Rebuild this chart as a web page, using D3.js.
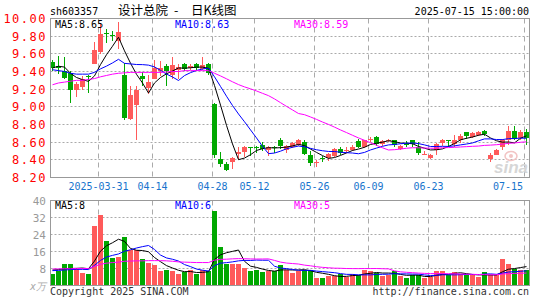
<!DOCTYPE html>
<html>
<head>
<meta charset="utf-8">
<script src="https://d3js.org/d3.v7.min.js"></script>
<style>
body { margin: 0; background: #fff; }
svg text { font-family: "DejaVu Sans Mono", monospace; font-size: 10px; }
</style>
</head>
<body>
<div id="chart"></div>
<script>
// daily candles, sh603357
var dates = ['2025-03-19','2025-03-20','2025-03-21','2025-03-24','2025-03-25','2025-03-26','2025-03-27','2025-03-28',
    '2025-03-31','2025-04-01','2025-04-02','2025-04-03','2025-04-07','2025-04-08','2025-04-09','2025-04-10','2025-04-11',
    '2025-04-14','2025-04-15','2025-04-16','2025-04-17','2025-04-18','2025-04-21','2025-04-22','2025-04-23','2025-04-24','2025-04-25',
    '2025-04-28','2025-04-29','2025-04-30','2025-05-06','2025-05-07','2025-05-08','2025-05-09',
    '2025-05-12','2025-05-13','2025-05-14','2025-05-15','2025-05-16','2025-05-19','2025-05-20','2025-05-21','2025-05-22','2025-05-23',
    '2025-05-26','2025-05-27','2025-05-28','2025-05-29','2025-05-30','2025-06-03','2025-06-04','2025-06-05','2025-06-06',
    '2025-06-09','2025-06-10','2025-06-11','2025-06-12','2025-06-13','2025-06-16','2025-06-17','2025-06-18','2025-06-19','2025-06-20',
    '2025-06-23','2025-06-24','2025-06-25','2025-06-26','2025-06-27','2025-06-30','2025-07-01','2025-07-02','2025-07-03','2025-07-04',
    '2025-07-07','2025-07-08','2025-07-09','2025-07-10','2025-07-11','2025-07-14','2025-07-15'];

var openP = [9.51,9.46,9.41,9.38,9.19,9.23,9.35,9.49,9.62,9.84,9.81,9.74,9.36,8.86,9.02,9.35,9.21,9.32,9.40,9.46,
    9.36,9.42,9.48,9.44,9.48,9.43,9.48,9.03,8.41,8.35,8.37,8.47,8.49,8.55,8.55,8.57,8.51,8.54,8.63,8.51,
    8.55,8.57,8.60,8.46,8.36,8.42,8.42,8.44,8.52,8.50,8.51,8.61,8.54,8.63,8.66,8.58,8.62,8.62,8.52,8.58,
    8.62,8.55,8.46,8.42,8.51,8.59,8.63,8.58,8.63,8.72,8.66,8.68,8.73,8.41,8.46,8.55,8.63,8.73,8.65,8.72];
var highP = [9.53,9.58,9.56,9.40,9.28,9.35,9.36,9.73,9.95,9.88,9.86,9.96,9.50,9.24,9.24,9.39,9.36,9.53,9.52,9.49,
    9.56,9.48,9.50,9.48,9.50,9.56,9.50,9.04,8.49,8.38,8.43,8.55,8.56,8.55,8.56,8.60,8.56,8.56,8.65,8.57,
    8.60,8.64,8.62,8.50,8.40,8.44,8.48,8.53,8.55,8.54,8.57,8.64,8.63,8.66,8.67,8.63,8.64,8.63,8.57,8.61,
    8.63,8.60,8.50,8.47,8.59,8.64,8.63,8.68,8.69,8.72,8.71,8.73,8.74,8.48,8.52,8.64,8.78,8.78,8.74,8.75];
var lowP = [9.41,9.37,9.31,9.04,9.11,9.19,9.16,9.48,9.60,9.72,9.75,9.66,8.85,8.85,8.62,9.24,9.15,9.31,9.35,9.24,
    9.32,9.32,9.41,9.42,9.42,9.42,9.36,8.42,8.32,8.27,8.30,8.40,8.43,8.44,8.48,8.50,8.44,8.48,8.52,8.48,
    8.53,8.56,8.45,8.33,8.32,8.37,8.39,8.43,8.45,8.48,8.50,8.53,8.53,8.60,8.56,8.56,8.60,8.54,8.51,8.54,
    8.55,8.45,8.45,8.41,8.45,8.56,8.55,8.55,8.59,8.64,8.65,8.67,8.67,8.38,8.45,8.51,8.57,8.63,8.63,8.57];
var closeP = [9.44,9.44,9.33,9.19,9.26,9.32,9.34,9.64,9.83,9.82,9.80,9.85,8.87,9.13,9.19,9.31,9.28,9.44,9.44,9.40,
    9.47,9.45,9.43,9.46,9.44,9.47,9.38,8.46,8.35,8.29,8.42,8.49,8.55,8.54,8.53,8.52,8.55,8.53,8.56,8.56,
    8.59,8.63,8.47,8.36,8.37,8.41,8.47,8.52,8.48,8.51,8.55,8.55,8.62,8.64,8.58,8.61,8.63,8.57,8.56,8.57,
    8.58,8.48,8.47,8.46,8.58,8.63,8.62,8.63,8.67,8.67,8.70,8.72,8.69,8.46,8.51,8.62,8.73,8.64,8.72,8.65];

// volume, x10k lots
var volumes = [5.2,6.8,10,10,8.4,5.9,5.2,28.1,33.3,21,13,13.5,23,16.7,16.7,12.4,10.6,9.5,6.8,7.5,
    6.8,5.2,6.3,7.1,5.2,7.1,6.8,34.9,18.3,10,10.3,10,8.4,6.8,7.1,6.3,6.8,6.8,9.5,7.5,
    5.9,6.8,7.5,7.1,3.7,3.7,4.3,4.3,5.2,4.0,5.6,4.8,7.5,6.8,5.9,4.3,4.8,6.8,4.3,3.7,
    4.8,4.8,3.7,4.0,6.8,6.8,4.8,6.3,5.2,4.8,4.8,4.0,6.3,4.8,4.8,12.4,10,7.9,7.1,7.1];

// averages before there is enough history in view
var ma5Head = [9.44,9.46,9.45,9.38];
var ma10Head = [9.42,9.41,9.40,9.38,9.37,9.37,9.37,9.39,9.43];
var ma30Head = [9.25,9.27,9.28,9.29,9.30,9.30,9.31,9.32,9.34,9.355,9.37,9.38,9.385,9.39,9.39,9.39,9.39,9.39,9.39,9.395,
    9.40,9.40,9.41,9.41,9.41,9.41,9.41,9.38,9.35];
var vma5Head = [7.3,7.5,7.8,8.0];
var vma10Head = [7.0,7.1,7.3,7.5,7.6,7.6,7.5,9.5,11.8];
var vma30Head = [7.8,7.8,7.9,7.9,8.0,8.0,8.0,9.0,10.0,10.5,10.8,11.0,11.4,11.5,11.6,11.6,11.7,11.7,11.7,11.6,
    11.4,11.1,11.0,10.9,10.8,10.8,10.8,11.9,12.3];

var priceTicks = [8.2,8.4,8.6,8.8,9.0,9.2,9.4,9.6,9.8,10.0];
var volTicks = [8,16,24,32,40];
var tickDates = ['2025-03-31','2025-04-14','2025-04-28','2025-05-12','2025-05-26','2025-06-09','2025-06-23','2025-07-15'];
var priceMaText = ['MA5:8.65','MA10:8.63','MA30:8.59'];
var volMaText = ['MA5:8','MA10:6','MA30:5'];

var left = 50.5, right = 529.5,
    priceTop = 18.5, priceBottom = 177.5,
    volTop = 200.5, volBottom = 285.5,
    upColor = '#ff5a5a', downColor = '#00a800',
    maColors = ['#000000', '#0000ff', '#ff00ff'],
    maX = [55, 175, 294],
    svg = null, x = null, yPrice = null, yVol = null;

function init() {
    svg = d3.select('#chart').append('svg')
        .attr('width', 545)
        .attr('height', 300);
    x = d3.scalePoint().domain(dates).range([52.5, 526.5]);
    yPrice = d3.scaleLinear().domain([8.2, 10]).range([priceBottom, priceTop]);
    yVol = d3.scaleLinear().domain([0, 40]).range([volBottom, volTop]);

    drawHeader();
    drawGrid(yPrice, priceTicks, priceTop, priceBottom);
    drawGrid(yVol, volTicks, volTop, volBottom);
    drawWatermark();
    drawCandles();
    drawVolumes();
    drawLines(yPrice, [movingAvg(closeP, 5, ma5Head), movingAvg(closeP, 10, ma10Head), movingAvg(closeP, 30, ma30Head)]);
    drawLines(yVol, [movingAvg(volumes, 5, vma5Head), movingAvg(volumes, 10, vma10Head), movingAvg(volumes, 30, vma30Head)]);
    drawFrame(priceTop, priceBottom);
    drawFrame(volTop, volBottom);
    drawAxes();
    drawMaLabels(priceMaText, 28);
    drawMaLabels(volMaText, 209);
    drawFooter();
}

function movingAvg(values, n, head) {
    return values.map(function(v, i) {
        if (i < n - 1) return head[i];
        return d3.mean(values.slice(i - n + 1, i + 1));
    });
}

function crisp(v) {
    return Math.round(v - 0.5) + 0.5;
}

function drawHeader() {
    svg.append('text').attr('x', 50).attr('y', 15).attr('fill', '#000').text('sh603357');
    var t = svg.append('text').attr('y', 15).attr('fill', '#000')
        .style('font-family', '"Noto Sans CJK SC", sans-serif').style('font-size', '12.5px');
    t.append('tspan').attr('x', 118).text('设计总院');
    t.append('tspan').attr('x', 174).text('-');
    t.append('tspan').attr('x', 191).text('日K线图');
    svg.append('text').attr('x', 529).attr('y', 15).attr('text-anchor', 'end').attr('fill', '#000')
        .text('2025-07-15 15:00:00');
}

function drawGrid(y, ticks, top, bottom) {
    svg.append('g').selectAll('line').data(ticks).enter().append('line')
        .attr('x1', left).attr('x2', right)
        .attr('y1', function(d) { return crisp(y(d)); })
        .attr('y2', function(d) { return crisp(y(d)); })
        .style('stroke', '#aaa')
        .style('stroke-dasharray', '2,2');
    svg.append('g').selectAll('line').data(tickDates).enter().append('line')
        .attr('x1', function(d) { return x(d) - 2; })
        .attr('x2', function(d) { return x(d) - 2; })
        .attr('y1', top).attr('y2', bottom)
        .style('stroke', '#aaa')
        .style('stroke-dasharray', '5,4');
}

function drawWatermark() {
    var g = svg.append('g');
    g.append('ellipse').attr('cx', 511).attr('cy', 156).attr('rx', 6).attr('ry', 4.5)
        .style('fill', 'none').style('stroke', '#f2c4c4').style('stroke-width', 1.5);
    g.append('circle').attr('cx', 511).attr('cy', 156).attr('r', 2).style('fill', '#f2c4c4');
    g.append('text').attr('x', 494).attr('y', 173).attr('fill', '#d6d6d6')
        .style('font-family', '"Liberation Sans", sans-serif')
        .style('font-size', '17px').style('font-weight', 'bold').style('font-style', 'italic')
        .text('sina');
}

function drawCandles() {
    var g = svg.append('g');
    var idx = d3.range(dates.length);
    var color = function(i) { return closeP[i] >= openP[i] ? upColor : downColor; };
    g.selectAll('line.wick').data(idx).enter().append('line')
        .attr('class', 'wick')
        .attr('x1', function(i) { return x(dates[i]); })
        .attr('x2', function(i) { return x(dates[i]); })
        .attr('y1', function(i) { return Math.round(yPrice(highP[i])); })
        .attr('y2', function(i) { return Math.round(yPrice(lowP[i])); })
        .style('stroke', color);
    g.selectAll('rect').data(idx).enter().append('rect')
        .attr('x', function(i) { return x(dates[i]) - 2.5; })
        .attr('width', 5)
        .attr('y', function(i) { return Math.round(yPrice(Math.max(openP[i], closeP[i]))); })
        .attr('height', function(i) {
            var h = Math.round(yPrice(Math.min(openP[i], closeP[i]))) - Math.round(yPrice(Math.max(openP[i], closeP[i])));
            return Math.max(1, h);
        })
        .style('fill', color);
}

function drawVolumes() {
    svg.append('g').selectAll('rect').data(d3.range(dates.length)).enter().append('rect')
        .attr('x', function(i) { return x(dates[i]) - 2.5; })
        .attr('width', 5)
        .attr('y', function(i) { return Math.round(yVol(volumes[i])); })
        .attr('height', function(i) { return 285 - Math.round(yVol(volumes[i])); })
        .style('fill', function(i) { return closeP[i] >= openP[i] ? upColor : downColor; });
}

function drawLines(y, series) {
    var line = d3.line()
        .x(function(d, i) { return x(dates[i]); })
        .y(function(d) { return y(d); });
    svg.append('g').selectAll('path').data(series).enter().append('path')
        .attr('d', line)
        .style('fill', 'none')
        .style('stroke', function(d, i) { return maColors[i]; })
        .style('stroke-width', 1);
}

function drawFrame(top, bottom) {
    svg.append('rect')
        .attr('x', left).attr('y', top)
        .attr('width', right - left).attr('height', bottom - top)
        .style('fill', 'none').style('stroke', '#999');
}

function drawAxes() {
    var gp = svg.append('g').attr('transform', 'translate(50,0)')
        .call(d3.axisLeft(yPrice).tickValues(priceTicks).tickFormat(d3.format('.2f')).tickSize(0).tickPadding(3));
    gp.select('.domain').remove();
    gp.selectAll('text').attr('fill', '#ff0000')
        .style('font-family', '"DejaVu Sans Mono", monospace')
        .style('font-size', '12px').style('letter-spacing', '1.5px');

    var gv = svg.append('g').attr('transform', 'translate(50,0)')
        .call(d3.axisLeft(yVol).tickValues(volTicks).tickFormat(d3.format('d')).tickSize(0).tickPadding(4));
    gv.select('.domain').remove();
    gv.selectAll('text').attr('fill', '#999')
        .style('font-family', '"DejaVu Sans Mono", monospace')
        .style('font-size', '11px');

    svg.append('text').attr('x', 30).attr('y', 290).attr('fill', '#aaa')
        .style('font-style', 'italic').text('x万');

    svg.append('g').selectAll('text').data(tickDates).enter().append('text')
        .attr('y', 190)
        .attr('fill', '#1874cd')
        .attr('text-anchor', 'middle')
        .attr('x', function(d) { return x(d) - 2; })
        .text(function(d, i) { return i === 0 ? d : d.slice(5); })
        .each(function() {
            var w = this.getComputedTextLength();
            var cx = +d3.select(this).attr('x');
            if (cx + w / 2 > 523) d3.select(this).attr('x', 523 - w / 2);
        });
}

function drawMaLabels(texts, y) {
    svg.append('g').selectAll('text').data(texts).enter().append('text')
        .attr('x', function(d, i) { return maX[i]; })
        .attr('y', y)
        .attr('fill', function(d, i) { return maColors[i]; })
        .text(function(d) { return d; });
}

function drawFooter() {
    svg.append('text').attr('x', 50).attr('y', 295).attr('fill', '#333').text('Copyright 2025 SINA.COM');
    svg.append('text').attr('x', 529).attr('y', 295).attr('text-anchor', 'end').attr('fill', '#333')
        .text('http://finance.sina.com.cn');
}

init();
</script>
</body>
</html>
